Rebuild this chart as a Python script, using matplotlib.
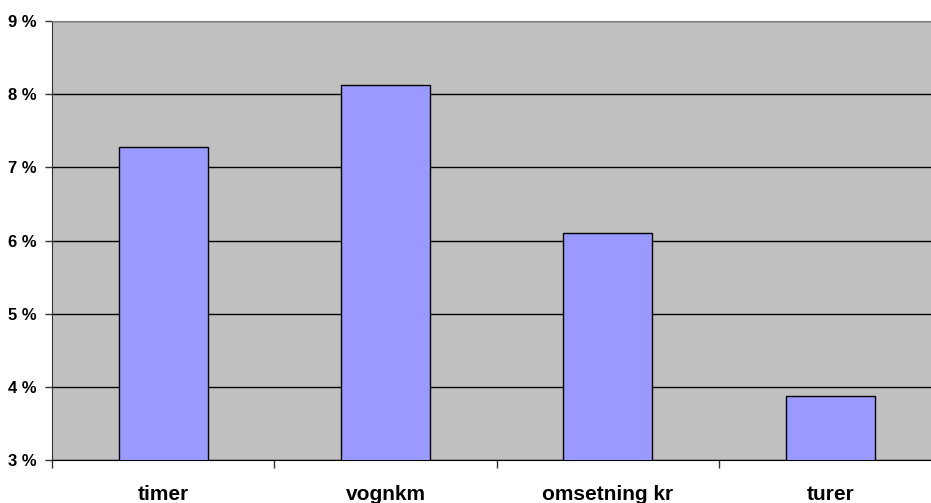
import matplotlib
matplotlib.use("Agg")
import matplotlib.pyplot as plt
import numpy as np
from matplotlib.ticker import FixedLocator, FuncFormatter

categories = ["timer", "vognkm", "omsetning kr", "turer"]
values = [7.28, 8.12, 6.10, 3.87]
y_ticks = [3, 4, 5, 6, 7, 8, 9]

plt.rcParams["font.family"] = ["Liberation Sans", "DejaVu Sans"]
plt.rcParams["font.weight"] = "bold"

fig = plt.figure(figsize=(9.31, 5.03), dpi=100)
# plot area runs past the right edge of the canvas
ax = fig.add_axes([52 / 931, 43 / 503, 889.5 / 931, 439 / 503])
ax.set_facecolor("#C0C0C0")

x = np.arange(len(categories))
ax.bar(x, values, width=0.4, bottom=0, color="#9999FF",
       edgecolor="black", linewidth=1.0, zorder=3)

ax.set_xlim(-0.5, len(categories) - 0.5)
ax.set_ylim(3, 9)
ax.set_yticks(y_ticks)
ax.yaxis.set_major_formatter(FuncFormatter(lambda v, _: f"{v:.0f} %"))
ax.yaxis.grid(True, color="black", linewidth=1.0, zorder=1)
ax.set_axisbelow(True)

# boundaries between categories get ticks, centres get the labels
ax.xaxis.set_major_locator(FixedLocator(np.arange(len(categories) + 1) - 0.5))
ax.xaxis.set_major_formatter(FuncFormatter(lambda v, _: ""))
ax.xaxis.set_minor_locator(FixedLocator(x))
ax.set_xticklabels(categories, minor=True)
ax.tick_params(axis="x", which="major", direction="out", length=6, width=1, color="#333333")
ax.tick_params(axis="x", which="minor", length=0, pad=18, labelsize=15)
ax.tick_params(axis="y", direction="out", length=5, width=1, pad=6, labelsize=12, color="#333333")

for lbl in ax.get_xticklabels(minor=True) + ax.get_yticklabels():
    lbl.set_fontweight("bold")

ax.spines["top"].set_color("#808080")
ax.spines["left"].set_color("#333333")
ax.spines["bottom"].set_color("black")
ax.spines["right"].set_visible(False)

fig.savefig("out.png", dpi=100)
